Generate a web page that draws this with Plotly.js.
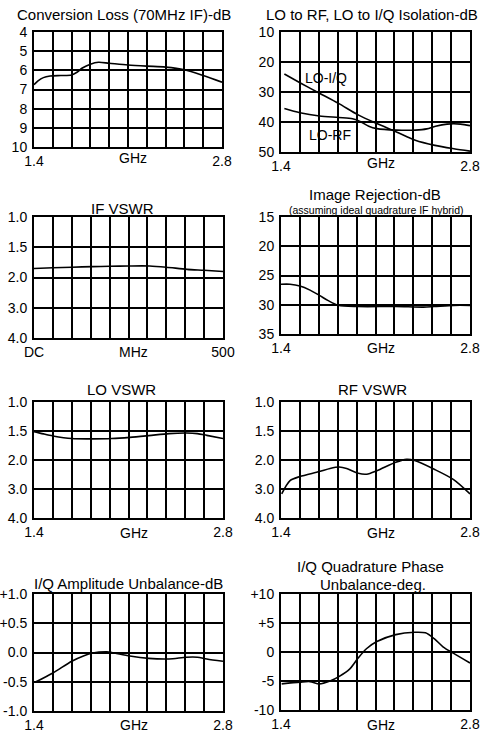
<!DOCTYPE html>
<html>
<head>
<meta charset="utf-8">
<script src="https://cdn.plot.ly/plotly-3.0.1.min.js"></script>
<style>
  html, body { margin: 0; padding: 0; background: #fff; }
  #chart { width: 494px; height: 733px; }
</style>
</head>
<body>
<div id="chart"></div>
<script>
// ---------- DATA ----------
// Conversion Loss (70MHz IF) - dB
const convFreq = [1.40, 1.43, 1.47, 1.52, 1.60, 1.68, 1.72, 1.76, 1.82, 1.88, 1.96, 2.10, 2.24, 2.38, 2.52, 2.66, 2.80];
const convLoss = [6.75, 6.55, 6.38, 6.30, 6.27, 6.24, 6.10, 5.88, 5.68, 5.58, 5.63, 5.72, 5.78, 5.83, 5.97, 6.27, 6.62];

// LO to RF, LO to I/Q isolation - dB
const isoIQFreq = [1.425, 1.54, 1.685, 1.826, 1.975, 2.11, 2.255, 2.395, 2.54, 2.68, 2.80];
const isoIQ     = [24.0, 26.9, 30.4, 33.8, 37.7, 40.5, 43.3, 46.1, 47.8, 48.9, 49.7];
const isoRFFreq = [1.425, 1.54, 1.685, 1.826, 1.93, 1.99, 2.05, 2.11, 2.255, 2.395, 2.48, 2.545, 2.63, 2.73, 2.80];
const isoRF     = [35.5, 36.9, 38.0, 38.5, 38.9, 39.9, 41.4, 42.2, 42.7, 42.7, 42.3, 41.4, 40.7, 40.7, 41.2];

// IF VSWR (MHz)
const ifFreq = [0, 50, 100, 155, 200, 250, 306, 350, 405, 450, 500];
const ifVswr = [1.85, 1.84, 1.83, 1.82, 1.815, 1.81, 1.81, 1.83, 1.865, 1.88, 1.90];

// Image Rejection - dB
const imgFreq = [1.40, 1.467, 1.54, 1.615, 1.685, 1.75, 1.825, 1.97, 2.25, 2.455, 2.535, 2.68, 2.80];
const imgRej  = [26.5, 26.5, 26.8, 27.5, 28.4, 29.3, 30.1, 30.3, 30.3, 30.4, 30.3, 30.1, 30.1];

// LO VSWR
const loFreq = [1.40, 1.47, 1.54, 1.68, 1.835, 1.976, 2.11, 2.25, 2.40, 2.53, 2.61, 2.68, 2.80];
const loVswr = [1.51, 1.55, 1.585, 1.63, 1.635, 1.63, 1.61, 1.58, 1.545, 1.535, 1.545, 1.575, 1.63];

// RF VSWR
const rfFreq = [1.405, 1.467, 1.54, 1.684, 1.763, 1.832, 1.886, 1.973, 2.035, 2.11, 2.25, 2.33, 2.39, 2.535, 2.676, 2.80];
const rfVswr = [3.17, 2.71, 2.57, 2.40, 2.29, 2.24, 2.29, 2.46, 2.49, 2.37, 2.08, 1.99, 2.02, 2.32, 2.67, 3.17];

// I/Q Amplitude Unbalance - dB
const ampFreq = [1.407, 1.54, 1.68, 1.766, 1.835, 1.94, 1.976, 2.11, 2.25, 2.40, 2.53, 2.61, 2.68, 2.80];
const ampUnb  = [-0.51, -0.35, -0.15, -0.06, -0.01, 0.01, 0.0, -0.06, -0.10, -0.11, -0.08, -0.08, -0.11, -0.15];

// I/Q Quadrature Phase Unbalance - deg
const phFreq = [1.405, 1.54, 1.615, 1.684, 1.763, 1.832, 1.91, 1.973, 2.035, 2.11, 2.25, 2.39, 2.47, 2.535, 2.60, 2.676, 2.80];
const phUnb  = [-5.5, -5.2, -5.1, -5.5, -5.0, -4.2, -2.9, -1.0, 0.6, 1.8, 3.0, 3.4, 3.3, 2.3, 0.9, -0.2, -1.9];

// Tick labels
const ghzTicks   = [1.4, 1.54, 1.68, 1.82, 1.96, 2.1, 2.24, 2.38, 2.52, 2.66, 2.8];
const ghzText    = ['1.4', '', '', '', '', '', '', '', '', '', '2.8'];
const mhzTicks   = [0, 50, 100, 150, 200, 250, 300, 350, 400, 450, 500];
const mhzText    = ['DC', '', '', '', '', '', '', '', '', '', '500'];
const convTicks  = [4, 5, 6, 7, 8, 9, 10];
const isoTicks   = [10, 20, 30, 40, 50];
const imgTicks   = [15, 20, 25, 30, 35];
const vswrTicks  = [1.0, 1.5, 2.0, 3.0, 4.0];
const vswrText   = ['1.0', '1.5', '2.0', '3.0', '4.0'];
const ampTicks   = [-1.0, -0.5, 0.0, 0.5, 1.0];
const ampText    = ['-1.0', '-0.5', '0.0', '+0.5', '+1.0'];
const phTicks    = [-10, -5, 0, 5, 10];
const phText     = ['-10', '-5', '0', '+5', '+10'];

// ---------- helpers ----------
const W = 494, H = 733;
const FONT = 'Liberation Sans, Arial, Helvetica, sans-serif';
const px = x => x / W;
const py = y => 1 - y / H;

// VSWR grid is equally spaced at 1.0 / 1.5 / 2.0 / 3.0 / 4.0 (piecewise scale)
function vswrPos(v) {
  for (let i = 0; i < vswrTicks.length - 1; i++) {
    const a = vswrTicks[i], b = vswrTicks[i + 1];
    if (v <= b || i === vswrTicks.length - 2) return i + (v - a) / (b - a);
  }
}
const vswrTickPos = vswrTicks.map(vswrPos);

// panel pixel boxes [left, right, top, bottom]
const boxes = [
  [34, 222, 32, 147],
  [281, 470, 32, 152],
  [34, 223, 217, 338],
  [281, 470, 217, 334],
  [34, 223, 402, 518],
  [281, 470, 402, 518],
  [34, 223, 594, 711],
  [281, 470, 594, 710]
];

const lineStyle = { color: '#000', width: 1.6, shape: 'spline', smoothing: 0.8 };

const traces = [
  { x: convFreq, y: convLoss, xaxis: 'x', yaxis: 'y' },
  { x: isoIQFreq, y: isoIQ, xaxis: 'x2', yaxis: 'y2' },
  { x: isoRFFreq, y: isoRF, xaxis: 'x2', yaxis: 'y2' },
  { x: ifFreq, y: ifVswr.map(vswrPos), xaxis: 'x3', yaxis: 'y3' },
  { x: imgFreq, y: imgRej, xaxis: 'x4', yaxis: 'y4' },
  { x: loFreq, y: loVswr.map(vswrPos), xaxis: 'x5', yaxis: 'y5' },
  { x: rfFreq, y: rfVswr.map(vswrPos), xaxis: 'x6', yaxis: 'y6' },
  { x: ampFreq, y: ampUnb, xaxis: 'x7', yaxis: 'y7' },
  { x: phFreq, y: phUnb, xaxis: 'x8', yaxis: 'y8' }
].map(t => Object.assign(t, { type: 'scatter', mode: 'lines', line: lineStyle, hoverinfo: 'skip', showlegend: false }));

const tickFont = { family: FONT, size: 14, color: '#000' };
function xAxis(i, tickvals, ticktext, range) {
  const b = boxes[i];
  return {
    domain: [px(b[0]), px(b[1])], anchor: 'y' + (i === 0 ? '' : i + 1),
    range: range, tickmode: 'array', tickvals: tickvals, ticktext: ticktext,
    showgrid: true, gridcolor: '#000', gridwidth: 2,
    showline: true, mirror: true, linecolor: '#000', linewidth: 2,
    zeroline: false, ticks: '', tickfont: tickFont, fixedrange: true
  };
}
function yAxis(i, tickvals, ticktext, range) {
  const b = boxes[i];
  return {
    domain: [py(b[3]), py(b[2])], anchor: 'x' + (i === 0 ? '' : i + 1),
    range: range, tickmode: 'array', tickvals: tickvals, ticktext: ticktext,
    showgrid: true, gridcolor: '#000', gridwidth: 2,
    showline: true, mirror: true, linecolor: '#000', linewidth: 2,
    zeroline: false, ticks: '', tickfont: tickFont, ticklabelstandoff: 2, fixedrange: true
  };
}

const layout = {
  width: W, height: H,
  margin: { l: 0, r: 0, t: 0, b: 0 },
  paper_bgcolor: '#fff', plot_bgcolor: '#fff',
  showlegend: false,
  xaxis:  xAxis(0, ghzTicks, ghzText, [1.4, 2.8]),
  yaxis:  yAxis(0, convTicks, convTicks.map(String), [10, 4]),
  xaxis2: xAxis(1, ghzTicks, ghzText, [1.4, 2.8]),
  yaxis2: yAxis(1, isoTicks, isoTicks.map(String), [50, 10]),
  xaxis3: xAxis(2, mhzTicks, mhzText, [0, 500]),
  yaxis3: yAxis(2, vswrTickPos, vswrText, [4, 0]),
  xaxis4: xAxis(3, ghzTicks, ghzText, [1.4, 2.8]),
  yaxis4: yAxis(3, imgTicks, imgTicks.map(String), [35, 15]),
  xaxis5: xAxis(4, ghzTicks, ghzText, [1.4, 2.8]),
  yaxis5: yAxis(4, vswrTickPos, vswrText, [4, 0]),
  xaxis6: xAxis(5, ghzTicks, ghzText, [1.4, 2.8]),
  yaxis6: yAxis(5, vswrTickPos, vswrText, [4, 0]),
  xaxis7: xAxis(6, ghzTicks, ghzText, [1.4, 2.8]),
  yaxis7: yAxis(6, ampTicks, ampText, [-1, 1]),
  xaxis8: xAxis(7, ghzTicks, ghzText, [1.4, 2.8]),
  yaxis8: yAxis(7, phTicks, phText, [-10, 10]),
  annotations: []
};

function title(text, cx, cy, size) {
  layout.annotations.push({
    text: text, xref: 'paper', yref: 'paper', x: px(cx), y: py(cy),
    xanchor: 'center', yanchor: 'middle', showarrow: false,
    font: { family: FONT, size: size || 15, color: '#000' }
  });
}
title('Conversion Loss (70MHz IF)-dB', 124, 15);
title('LO to RF, LO to I/Q Isolation-dB', 372, 15);
title('IF VSWR', 122, 208);
title('Image Rejection-dB', 375, 194);
title('(assuming ideal quadrature IF hybrid)', 376, 210, 10.5);
title('LO VSWR', 121, 389);
title('RF VSWR', 372, 389);
title('I/Q Amplitude Unbalance-dB', 128, 583);
title('I/Q Quadrature Phase', 370, 566);
title('Unbalance-deg.', 373, 584);

// unit labels on the x axes
const unitY = [158, 163, 352, 348, 533, 533, 725, 725];
for (let i = 0; i < 8; i++) {
  layout.annotations.push({
    text: i === 2 ? 'MHz' : 'GHz',
    xref: 'x' + (i === 0 ? '' : i + 1), yref: 'paper',
    x: i === 2 ? 262 : 2.14, y: py(unitY[i]),
    xanchor: 'center', yanchor: 'middle', showarrow: false,
    font: tickFont
  });
}

// curve labels in the isolation panel
layout.annotations.push({
  text: 'LO-I/Q', xref: 'x2', yref: 'y2', x: 1.56, y: 25.3,
  xanchor: 'left', yanchor: 'middle', showarrow: false, font: tickFont
});
layout.annotations.push({
  text: 'LO-RF', xref: 'x2', yref: 'y2', x: 1.59, y: 44.3,
  xanchor: 'left', yanchor: 'middle', showarrow: false, font: tickFont
});

Plotly.newPlot('chart', traces, layout, { staticPlot: true, displayModeBar: false });
</script>
</body>
</html>
